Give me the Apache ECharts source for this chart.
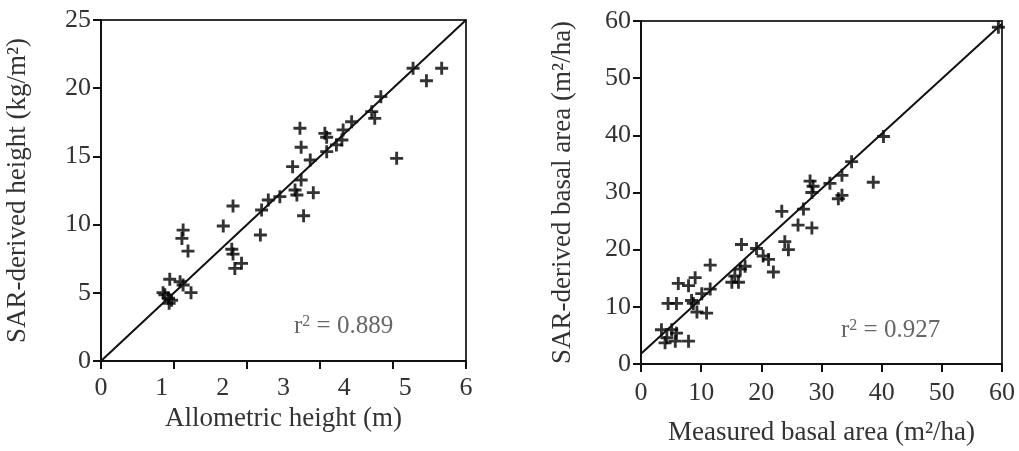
<!DOCTYPE html>
<html>
<head>
<meta charset="utf-8">
<script src="https://cdn.jsdelivr.net/npm/echarts@6/dist/echarts.min.js"></script>
</head>
<body style="margin:0;background:#fff">
<div id="main" style="width:1019px;height:451px;"></div>
<script>
// left panel: allometric height vs SAR-derived height
var heightPts = [
    [5.13, 21.46], [5.60, 21.46], [5.35, 20.55], [4.60, 19.38], [4.45, 18.28],
    [4.50, 17.79], [4.12, 17.54], [3.98, 16.94], [3.68, 16.69], [3.71, 16.40],
    [3.96, 16.20], [3.87, 15.84], [3.71, 15.35], [3.27, 17.06], [3.29, 15.67],
    [3.44, 14.74], [3.15, 14.25], [3.29, 13.27], [3.19, 12.54], [3.22, 12.17],
    [3.49, 12.34], [3.33, 10.65], [2.94, 12.05], [2.75, 11.80], [2.64, 11.07],
    [2.62, 9.24], [2.17, 11.36], [2.01, 9.90], [2.15, 8.19], [2.17, 7.84],
    [2.31, 7.16], [2.20, 6.79], [1.35, 9.60], [1.33, 8.99], [1.43, 8.06],
    [1.13, 5.99], [1.30, 5.81], [1.35, 5.57], [1.48, 5.01], [1.02, 5.01],
    [1.11, 4.60], [1.12, 4.23], [1.05, 4.85], [1.16, 4.45], [4.86, 14.86]
];
var heightFit = [[0, 0], [6, 25]];
var heightXTicks = [0, 1.2, 2.4, 3.6, 4.8, 6];

// right panel: measured vs SAR-derived basal area
var basalPts = [
    [59.4, 58.9], [40.3, 39.8], [35.0, 35.4], [33.4, 33.0], [38.6, 31.8],
    [31.4, 31.6], [28.1, 32.0], [28.6, 31.1], [28.4, 30.0], [33.4, 29.5],
    [32.8, 28.9], [23.4, 26.7], [27.0, 27.1], [26.1, 24.3], [28.4, 23.8],
    [23.9, 21.4], [24.5, 20.0], [16.7, 20.9], [19.2, 20.2], [20.3, 18.9],
    [21.2, 18.3], [22.0, 16.1], [17.3, 17.1], [16.5, 16.6], [15.6, 15.4],
    [15.1, 14.3], [16.2, 14.3], [11.5, 17.3], [6.2, 14.1], [7.9, 13.7],
    [9.0, 15.1], [10.1, 12.3], [11.5, 13.1], [4.5, 10.6], [5.9, 10.6],
    [8.7, 10.6], [9.3, 9.1], [10.9, 8.9], [3.4, 6.0], [5.1, 6.0],
    [5.9, 5.4], [4.3, 4.6], [5.7, 4.0], [7.9, 4.0], [4.0, 3.7], [8.4, 11.1]
];
var basalFit = [[0, 1.8], [60, 59.5]];

var plus = 'path://M0,3.9H3.9V0H6.1V3.9H10V6.1H6.1V10H3.9V6.1H0Z';
var ink = '#111';
var font = 'Liberation Serif';

function axisBase() {
    return {
        type: 'value',
        splitLine: { show: false },
        axisLine: { show: true, lineStyle: { color: ink, width: 2 } },
        axisTick: { show: true, inside: false, length: 8, lineStyle: { color: ink, width: 2 } },
        axisLabel: { color: '#333', fontFamily: font, fontSize: 26, margin: 10 },
        nameLocation: 'middle',
        nameTextStyle: { color: '#333', fontFamily: font, fontSize: 27 }
    };
}

var x0 = axisBase();
x0.gridIndex = 0; x0.min = 0; x0.max = 6; x0.interval = 1;
x0.axisTick = Object.assign({}, x0.axisTick, { customValues: heightXTicks });
x0.axisLabel = Object.assign({}, x0.axisLabel, { margin: 14 });
x0.name = 'Allometric height (m)'; x0.nameGap = 41;

var y0 = axisBase();
y0.gridIndex = 0; y0.min = 0; y0.max = 25; y0.interval = 5;
y0.name = 'SAR-derived height (kg/m²)'; y0.nameGap = 70;

var x1 = axisBase();
x1.gridIndex = 1; x1.min = 0; x1.max = 60; x1.interval = 10;
x1.axisLabel = Object.assign({}, x1.axisLabel, { margin: 16 });
x1.name = 'Measured basal area (m²/ha)'; x1.nameGap = 55;

var y1 = axisBase();
y1.gridIndex = 1; y1.min = 0; y1.max = 60; y1.interval = 10;
y1.name = 'SAR-derived basal area (m²/ha)'; y1.nameGap = 65;

var option = {
    backgroundColor: '#fff',
    animation: false,
    grid: [
        { left: 101, top: 20, width: 365, height: 341, show: true, borderColor: '#333', borderWidth: 2 },
        { left: 641, top: 21, width: 361, height: 349, show: true, borderColor: '#333', borderWidth: 2 }
    ],
    xAxis: [x0, x1],
    yAxis: [y0, y1],
    series: [
        {
            type: 'line', xAxisIndex: 0, yAxisIndex: 0, data: heightFit,
            symbol: 'none', lineStyle: { color: ink, width: 2 }
        },
        {
            type: 'scatter', xAxisIndex: 0, yAxisIndex: 0, data: heightPts,
            symbol: plus, symbolSize: 13, itemStyle: { color: '#000' }
        },
        {
            type: 'line', xAxisIndex: 1, yAxisIndex: 1, data: basalFit,
            symbol: 'none', lineStyle: { color: ink, width: 2 }
        },
        {
            type: 'scatter', xAxisIndex: 1, yAxisIndex: 1, data: basalPts,
            symbol: plus, symbolSize: 13, itemStyle: { color: '#000' }
        }
    ],
    graphic: [
        {
            type: 'text', left: 294, top: 314,
            style: {
                text: '{t|r}{s|2}{t| = 0.889}',
                rich: {
                    t: { fontFamily: font, fontSize: 25, fill: '#666' },
                    s: { fontFamily: font, fontSize: 16, fill: '#666', verticalAlign: 'top', padding: [0, 0, 8, 0] }
                }
            }
        },
        {
            type: 'text', left: 841, top: 318,
            style: {
                text: '{t|r}{s|2}{t| = 0.927}',
                rich: {
                    t: { fontFamily: font, fontSize: 25, fill: '#666' },
                    s: { fontFamily: font, fontSize: 16, fill: '#666', verticalAlign: 'top', padding: [0, 0, 8, 0] }
                }
            }
        }
    ]
};

var chart = echarts.init(document.getElementById('main'));
chart.setOption(option);
</script>
</body>
</html>
